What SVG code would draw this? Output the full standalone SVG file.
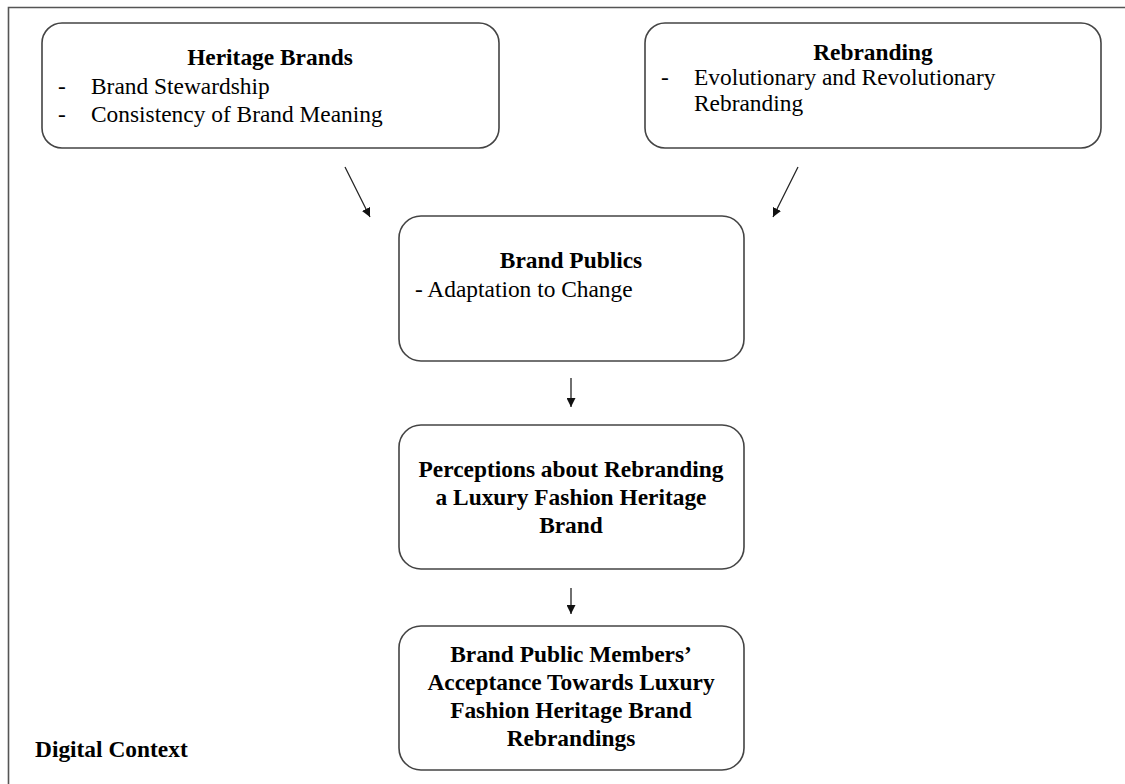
<svg xmlns="http://www.w3.org/2000/svg" width="1125" height="784" viewBox="0 0 1125 784">
<style>
.box{fill:#fff;stroke:#444;stroke-width:1.6}
.frame{fill:none;stroke:#555;stroke-width:1.6}
text{font-family:"Liberation Serif","Times New Roman",serif;font-size:23.4px;fill:#000}
.b{font-weight:bold}
.c{text-anchor:middle}
.conn{stroke:#222;stroke-width:1.3;fill:none}
</style>
<defs>
<marker id="ah" viewBox="0 0 10 10" refX="10" refY="5" markerWidth="9" markerHeight="9" markerUnits="userSpaceOnUse" orient="auto">
<path d="M0,0 L10,5 L0,10 z" fill="#111"/>
</marker>
</defs>
<rect width="1125" height="784" fill="#fff"/>
<path class="frame" d="M8.5,790 L8.5,7.5 L1130,7.5"/>
<g id="heritage">
<rect class="box" x="42" y="23" width="457" height="125" rx="20"/>
<text class="b c" x="270" y="65">Heritage Brands</text>
<text x="58" y="94">-</text><text x="91" y="94">Brand Stewardship</text>
<text x="58" y="122">-</text><text x="91" y="122">Consistency of Brand Meaning</text>
</g>
<g id="rebranding">
<rect class="box" x="645" y="23" width="456" height="125" rx="20"/>
<text class="b c" x="873" y="60">Rebranding</text>
<text x="661" y="85">-</text><text x="694" y="85">Evolutionary and Revolutionary</text>
<text x="694" y="111">Rebranding</text>
</g>
<g id="publics">
<rect class="box" x="399" y="216" width="345" height="145" rx="22"/>
<text class="b c" x="571" y="268">Brand Publics</text>
<text x="415" y="297">- Adaptation to Change</text>
</g>
<g id="perceptions">
<rect class="box" x="399" y="425" width="345" height="144" rx="22"/>
<text class="b c" x="571" y="477">Perceptions about Rebranding</text>
<text class="b c" x="571" y="505">a Luxury Fashion Heritage</text>
<text class="b c" x="571" y="533">Brand</text>
</g>
<g id="acceptance">
<rect class="box" x="399" y="626" width="345" height="144" rx="22"/>
<text class="b c" x="571" y="662">Brand Public Members’</text>
<text class="b c" x="571" y="690">Acceptance Towards Luxury</text>
<text class="b c" x="571" y="718">Fashion Heritage Brand</text>
<text class="b c" x="571" y="746">Rebrandings</text>
</g>
<g id="context">
<text class="b" x="35" y="757">Digital Context</text>
</g>
<g id="connectors">
<line class="conn" x1="345" y1="167" x2="370" y2="217" marker-end="url(#ah)"/>
<line class="conn" x1="798" y1="167" x2="773" y2="217" marker-end="url(#ah)"/>
<line class="conn" x1="571" y1="378" x2="571" y2="407" marker-end="url(#ah)"/>
<line class="conn" x1="571" y1="588" x2="571" y2="614" marker-end="url(#ah)"/>
</g>
</svg>
